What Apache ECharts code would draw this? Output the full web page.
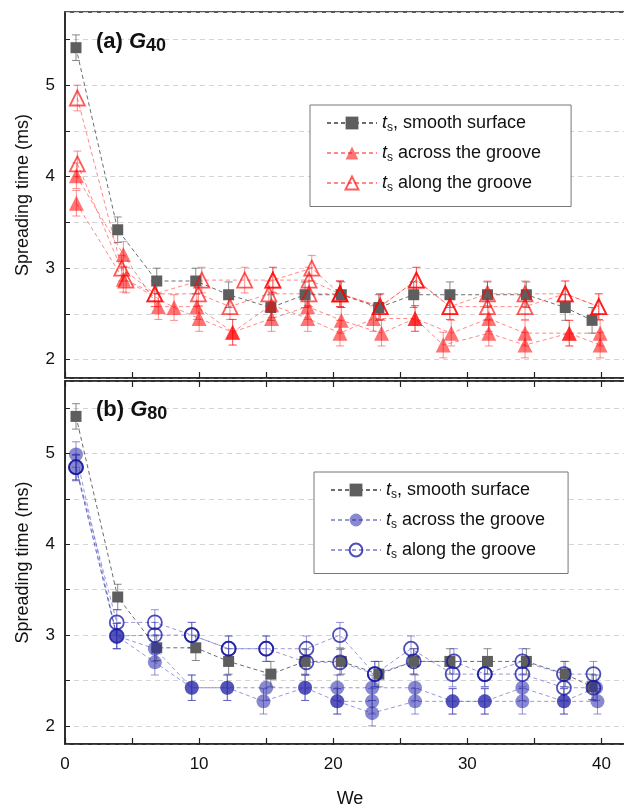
<!DOCTYPE html>
<html>
<head>
<meta charset="utf-8">
<script src="https://cdn.jsdelivr.net/npm/echarts@6/dist/echarts.min.js"></script>
<style>
  html, body { margin: 0; padding: 0; background: #fff; }
  #chart { width: 624px; height: 810px; }
</style>
</head>
<body>
<div id="chart"></div>
<script>
// smooth surface (same in both panels)
var weSmooth = [0.82, 3.93, 6.84, 9.75, 12.2, 15.35, 17.9, 20.6, 23.4, 26.0, 28.7, 31.5, 34.4, 37.3, 39.3];
var tSmooth = [5.41, 3.42, 2.86, 2.86, 2.71, 2.57, 2.71, 2.71, 2.57, 2.71, 2.71, 2.71, 2.71, 2.57, 2.43];

// G40 across the groove (two runs)
var weAcross40a = [0.85, 4.35, 6.96, 9.83, 12.5, 15.4, 18.1, 20.6, 23.6, 26.1, 28.8, 31.6, 34.3, 37.6, 39.9];
var tAcross40a = [4.01, 3.15, 2.58, 2.58, 2.30, 2.45, 2.58, 2.43, 2.29, 2.45, 2.29, 2.45, 2.29, 2.29, 2.29];
var weAcross40b = [0.85, 4.35, 8.13, 10.0, 12.5, 15.4, 18.1, 20.5, 23.0, 26.1, 28.2, 31.6, 34.3, 37.6, 39.9];
var tAcross40b = [3.71, 2.88, 2.57, 2.45, 2.30, 2.60, 2.45, 2.29, 2.45, 2.45, 2.16, 2.29, 2.16, 2.29, 2.16];

// G40 along the groove
var weAlong40a = [0.92, 4.23, 6.7, 9.95, 12.3, 15.2, 18.2, 20.5, 23.5, 26.2, 28.7, 31.5, 34.3, 37.3, 39.8];
var tAlong40a = [4.86, 3.00, 2.72, 2.72, 2.58, 2.72, 2.72, 2.72, 2.58, 2.87, 2.58, 2.58, 2.58, 2.72, 2.58];
var weAlong40b = [0.92, 4.55, 6.7, 10.2, 13.4, 15.5, 18.4, 20.5, 23.5, 26.2, 28.7, 31.5, 34.3, 37.3, 39.8];
var tAlong40b = [4.14, 2.87, 2.72, 2.87, 2.87, 2.87, 3.00, 2.72, 2.58, 2.87, 2.58, 2.72, 2.72, 2.72, 2.58];
var weAlong40c = [15.5, 18.2, 20.5];
var tAlong40c = [2.87, 2.87, 2.72];

// G80 across the groove
var weAcross80a = [0.82, 3.86, 6.7, 9.45, 12.1, 15.0, 17.9, 20.3, 22.9, 26.1, 28.9, 31.3, 34.1, 37.2, 39.6];
var tAcross80a = [4.99, 2.99, 2.70, 2.42, 2.42, 2.42, 2.42, 2.42, 2.42, 2.42, 2.27, 2.27, 2.42, 2.27, 2.42];
var weAcross80b = [0.82, 3.86, 6.7, 9.45, 12.1, 14.8, 17.9, 20.3, 22.9, 26.1, 28.9, 31.3, 34.1, 37.2, 39.7];
var tAcross80b = [4.84, 2.99, 2.85, 2.42, 2.42, 2.27, 2.42, 2.27, 2.14, 2.27, 2.27, 2.27, 2.27, 2.27, 2.27];
var weAcross80c = [20.3, 22.9];
var tAcross80c = [2.27, 2.27];

// G80 along the groove
var weAlong80a = [0.82, 3.86, 6.7, 9.45, 12.2, 15.0, 18.0, 20.5, 23.1, 25.8, 28.9, 31.3, 34.1, 37.2, 39.4];
var tAlong80a = [4.85, 3.14, 3.14, 3.00, 2.85, 2.85, 2.85, 3.00, 2.57, 2.85, 2.57, 2.57, 2.71, 2.57, 2.57];
var weAlong80b = [0.82, 3.86, 6.7, 9.45, 12.2, 15.0, 18.0, 20.5, 23.1, 26.0, 29.0, 31.3, 34.1, 37.2, 39.4];
var tAlong80b = [4.85, 2.99, 3.00, 3.00, 2.85, 2.85, 2.70, 2.70, 2.57, 2.71, 2.71, 2.57, 2.57, 2.42, 2.42];

var ERR = 0.14; // error bar half height
var yTicks = [2, 3, 4, 5];
var xTicks = [0, 10, 20, 30, 40];

var legendText = {
    'smooth': '{t|t}{s|s}{n|, smooth surface}',
    'across40': '{t|t}{s|s}{n| across the groove}',
    'along40': '{t|t}{s|s}{n| along the groove}',
    'across80': '{t|t}{s|s}{n| across the groove}',
    'along80': '{t|t}{s|s}{n| along the groove}'
};

var FONT = 'Liberation Sans, Arial, sans-serif';

function pts(xs, ys) {
    return xs.map(function (x, i) { return [x, ys[i]]; });
}

function errRender(color) {
    return function (params, api) {
        var x = api.value(0);
        var top = api.coord([x, api.value(2)]);
        var bot = api.coord([x, api.value(1)]);
        var w = 4;
        var st = { stroke: color, lineWidth: 1 };
        return {
            type: 'group',
            children: [
                { type: 'line', shape: { x1: top[0], y1: top[1], x2: bot[0], y2: bot[1] }, style: st },
                { type: 'line', shape: { x1: top[0] - w, y1: top[1], x2: top[0] + w, y2: top[1] }, style: st },
                { type: 'line', shape: { x1: bot[0] - w, y1: bot[1], x2: bot[0] + w, y2: bot[1] }, style: st }
            ]
        };
    };
}

var series = [];

function addRun(name, xs, ys, g, look) {
    series.push({
        type: 'custom',
        name: name + '-err',
        xAxisIndex: g, yAxisIndex: g,
        renderItem: errRender(look.err),
        encode: { x: 0, y: [1, 2] },
        data: xs.map(function (x, i) { return [x, ys[i] - ERR, ys[i] + ERR]; }),
        z: 2,
        silent: true
    });
    series.push({
        type: 'line',
        name: name,
        xAxisIndex: g, yAxisIndex: g,
        data: pts(xs, ys),
        symbol: look.symbol,
        symbolSize: look.size,
        showAllSymbol: true,
        lineStyle: { color: look.line, width: 1, type: [4, 3] },
        itemStyle: look.item,
        z: 3,
        animation: false
    });
}

var lookSmooth = {
    symbol: 'rect', size: 11, err: 'rgba(90,90,90,0.7)', line: 'rgba(60,60,60,0.75)',
    item: { color: '#5e5e5e', opacity: 1 }
};
var lookAcross40 = {
    symbol: 'triangle', size: 15, err: 'rgba(255,30,30,0.5)', line: 'rgba(255,40,40,0.55)',
    item: { color: 'rgba(255,0,0,0.55)' }
};
var lookAlong40 = {
    symbol: 'triangle', size: 15, err: 'rgba(255,30,30,0.5)', line: 'rgba(255,40,40,0.55)',
    item: { color: 'rgba(255,255,255,0)', borderColor: 'rgba(255,0,0,0.65)', borderWidth: 1.8 }
};
var lookAcross80 = {
    symbol: 'circle', size: 14, err: 'rgba(60,60,180,0.55)', line: 'rgba(70,70,190,0.55)',
    item: { color: 'rgba(40,40,170,0.55)' }
};
var lookAlong80 = {
    symbol: 'circle', size: 14, err: 'rgba(60,60,180,0.55)', line: 'rgba(70,70,190,0.55)',
    item: { color: 'rgba(255,255,255,0)', borderColor: 'rgba(20,20,160,0.75)', borderWidth: 1.8 }
};

// panel (a)
addRun('smooth', weSmooth, tSmooth, 0, lookSmooth);
addRun('across40', weAcross40a, tAcross40a, 0, lookAcross40);
addRun('across40', weAcross40b, tAcross40b, 0, lookAcross40);
addRun('along40', weAlong40a, tAlong40a, 0, lookAlong40);
addRun('along40', weAlong40b, tAlong40b, 0, lookAlong40);
addRun('along40', weAlong40c, tAlong40c, 0, lookAlong40);
// panel (b)
addRun('smooth', weSmooth, tSmooth, 1, lookSmooth);
addRun('across80', weAcross80a, tAcross80a, 1, lookAcross80);
addRun('across80', weAcross80b, tAcross80b, 1, lookAcross80);
addRun('across80', weAcross80c, tAcross80c, 1, lookAcross80);
addRun('along80', weAlong80a, tAlong80a, 1, lookAlong80);
addRun('along80', weAlong80b, tAlong80b, 1, lookAlong80);

function yAxis(g) {
    return {
        type: 'value', gridIndex: g, min: 1.8, max: 5.8, splitNumber: 8,
        name: 'Spreading time (ms)', nameLocation: 'middle', nameGap: 33,
        nameTextStyle: { fontFamily: FONT, fontSize: 18, color: '#111' },
        axisLine: { show: true, lineStyle: { color: '#222', width: 1.5 } },
        axisTick: { show: true, inside: true, length: 5, lineStyle: { color: '#222' } },
        axisLabel: {
            margin: 10, fontFamily: FONT, fontSize: 17, color: '#111',
            showMinLabel: false, showMaxLabel: false,
            formatter: function (v) {
                return yTicks.indexOf(Math.round(v * 100) / 100) >= 0 ? String(Math.round(v)) : '';
            }
        },
        splitLine: { show: true, lineStyle: { color: '#d4d4d4', type: [5, 4], width: 1 } }
    };
}

function xAxis(g, pos, labels) {
    return {
        type: 'value', gridIndex: g, position: pos, min: 0, max: 42.5, interval: 5,
        name: labels ? 'We' : '', nameLocation: 'middle', nameGap: 46,
        nameTextStyle: { fontFamily: FONT, fontSize: 18, color: '#111' },
        axisLine: { show: true, onZero: false, lineStyle: { color: '#222', width: 1.5 } },
        axisTick: { show: true, inside: true, length: 6, lineStyle: { color: '#222', width: 1.2 } },
        axisLabel: {
            show: labels, margin: 12, fontFamily: FONT, fontSize: 17, color: '#111',
            showMaxLabel: false,
            formatter: function (v) { return xTicks.indexOf(v) >= 0 ? String(v) : ''; }
        },
        splitLine: { show: false }
    };
}

var richLegend = {
    t: { fontFamily: FONT, fontSize: 18, fontStyle: 'italic', color: '#111' },
    s: { fontFamily: FONT, fontSize: 12, color: '#111', padding: [9, 0, 0, 0] },
    n: { fontFamily: FONT, fontSize: 18, color: '#111' }
};

function legend(names, left, top, padRight) {
    return {
        data: names, orient: 'vertical', left: left, top: top,
        backgroundColor: '#fff', borderColor: '#777', borderWidth: 1,
        padding: [9, padRight, 13, 16], itemGap: 10.5, itemWidth: 50, itemHeight: 16,
        selectedMode: false,
        formatter: function (n) { return legendText[n]; },
        textStyle: { fontFamily: FONT, fontSize: 18, color: '#111', rich: richLegend }
    };
}

var richTitle = {
    a: { fontFamily: FONT, fontSize: 22, fontWeight: 'bold', color: '#111' },
    g: { fontFamily: FONT, fontSize: 22, fontWeight: 'bold', fontStyle: 'italic', color: '#111' },
    s: { fontFamily: FONT, fontSize: 18, fontWeight: 'bold', color: '#111', padding: [8, 0, 0, 0] }
};

var option = {
    animation: false,
    backgroundColor: '#fff',
    title: [
        { text: '{a|(a) }{g|G}{s|40}', left: 96, top: 29, padding: 0, textStyle: { rich: richTitle } },
        { text: '{a|(b) }{g|G}{s|80}', left: 96, top: 397, padding: 0, textStyle: { rich: richTitle } }
    ],
    legend: [
        legend(['smooth', 'across40', 'along40'], 310, 105, 30),
        legend(['smooth', 'across80', 'along80'], 314, 472, 23)
    ],
    grid: [
        { left: 65, width: 570, top: 12, height: 366, outerBoundsMode: 'none', show: true, borderColor: '#222', borderWidth: 1.5, backgroundColor: 'transparent' },
        { left: 65, width: 570, top: 381, height: 363, outerBoundsMode: 'none', show: true, borderColor: '#222', borderWidth: 1.5, backgroundColor: 'transparent' }
    ],
    xAxis: [xAxis(0, 'bottom', false), xAxis(1, 'bottom', true), xAxis(1, 'top', false)],
    yAxis: [yAxis(0), yAxis(1)],
    series: series
};

var chart = echarts.init(document.getElementById('chart'));
chart.setOption(option);
</script>
</body>
</html>
